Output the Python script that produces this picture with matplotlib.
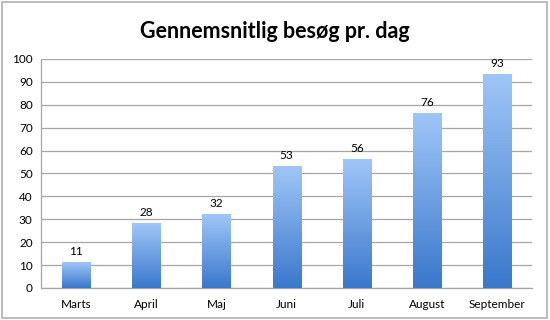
import numpy as np
import matplotlib.pyplot as plt
from matplotlib.patches import Rectangle
from matplotlib.colors import LinearSegmentedColormap

months = ['Marts', 'April', 'Maj', 'Juni', 'Juli', 'August', 'September']
visits = [11, 28, 32, 53, 56, 76, 93]

plt.rcParams['font.family'] = ['Lato', 'DejaVu Sans']

fig = plt.figure(figsize=(5.5, 3.2), dpi=100)
ax = fig.add_axes([0.0745, 0.1, 0.893, 0.716])

# light at the top of each bar, darker at the base
cmap = LinearSegmentedColormap.from_list('bar', ['#3a78cc', '#a0c6f8'])
grad = np.linspace(0, 1, 256).reshape(-1, 1)

x = np.arange(len(months))
bars = ax.bar(x, visits, width=0.4, color='none', zorder=3)
for b, v in zip(bars, visits):
    x0 = b.get_x()
    ax.imshow(grad, cmap=cmap, origin='lower', aspect='auto',
              extent=(x0, x0 + b.get_width(), 0, v), zorder=3)
    ax.text(b.get_x() + b.get_width() / 2, v + 2.5, str(v),
            ha='center', va='bottom', fontsize=8.5)

ax.set_xlim(-0.5, len(months) - 0.5)
ax.set_ylim(0, 100)
ax.set_yticks(range(0, 101, 10))
ax.set_xticks(x)
ax.set_xticklabels(months)
ax.tick_params(axis='both', length=0, labelsize=8.5)
ax.tick_params(axis='x', pad=8)
ax.tick_params(axis='y', pad=6)
ax.grid(axis='y', color='#a6a6a6', linewidth=0.9, zorder=0)
ax.set_axisbelow(True)
for s in ['top', 'right']:
    ax.spines[s].set_visible(False)
for s in ['left', 'bottom']:
    ax.spines[s].set_color('#a6a6a6')
    ax.spines[s].set_linewidth(0.9)

fig.text(0.5, 0.9, 'Gennemsnitlig besøg pr. dag', ha='center', va='center',
         fontsize=15.5, fontweight='bold')

fig.add_artist(Rectangle((0.004, 0.006), 0.99, 0.988, transform=fig.transFigure,
                         fill=False, edgecolor='#b0b0b0', linewidth=1.2))

fig.savefig('out.png', dpi=100)
